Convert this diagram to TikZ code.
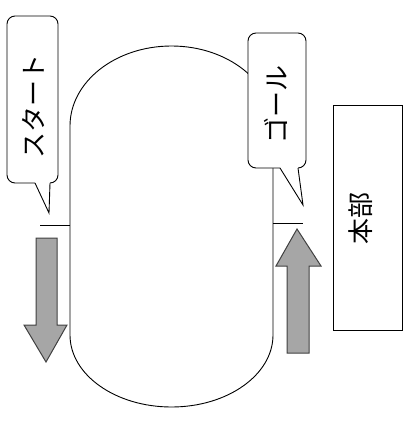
\documentclass[tikz,border=0pt]{standalone}
\usepackage{fontspec}
\newfontfamily\jpfont{Noto Sans CJK JP}
\begin{document}
\begin{tikzpicture}[x=1pt, y=-1pt, line width=0.9pt,
    balloon/.style={draw, fill=white, rounded corners=8pt},
    bigarrow/.style={draw=black!75, fill=black!35, line width=1pt},
    jptext/.style={rotate=90, inner sep=0pt, font=\jpfont\fontsize{26}{26}\selectfont}]
    \useasboundingbox (0,0) rectangle (415,428);

    \draw (70,335) -- (70,126) arc[start angle=180, end angle=360, x radius=101.5, y radius=80]
      -- (273,335) arc[start angle=0, end angle=180, x radius=101.5, y radius=72] -- cycle;

    \coordinate (startL) at (40,225);
    \coordinate (startR) at (70,225);
    \draw (startL) -- (startR);
    \coordinate (goalL) at (273,223);
    \coordinate (goalR) at (303,223);
    \draw (goalL) -- (goalR);

    \draw[balloon] (7,16) rectangle (58,183);
    \fill[white] (35,182) -- (49,213) -- (50,182) -- cycle;
    \draw (35,183) -- (49,213) -- (50,183);
    \node[jptext] (start) at (33,106) {スタート};

    \draw[balloon] (248,33) rectangle (306,168);
    \fill[white] (280,167) -- (303,205) -- (298,167) -- cycle;
    \draw (280,168) -- (303,205) -- (298,168);
    \node[jptext] (goal) at (276,104) {ゴール};

    \draw[bigarrow] (36,238) -- (57,238) -- (57,325) -- (67,325) -- (46,362)
      -- (24,325) -- (36,325) -- cycle;
    \draw[bigarrow] (287,353) -- (309,353) -- (309,266) -- (321,266) -- (297,229)
      -- (276,266) -- (287,266) -- cycle;

    \draw (333,105) rectangle (402,330);
    \node[jptext] (honbu) at (361,218) {本部};
  \end{tikzpicture}
\end{document}
